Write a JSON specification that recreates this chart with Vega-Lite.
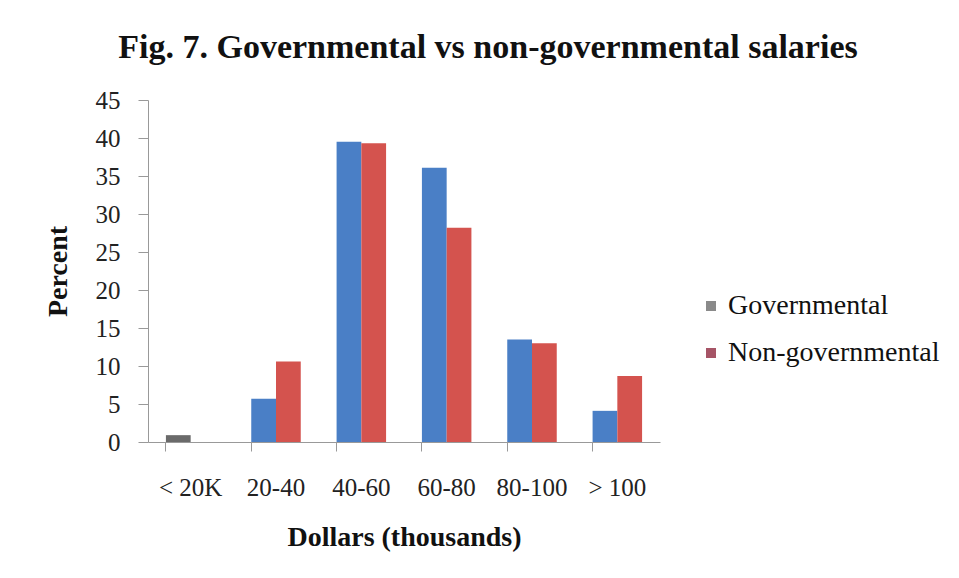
{
  "$schema": "https://vega.github.io/schema/vega-lite/v6.json",
  "width": 512,
  "height": 342,
  "autosize": {"type": "none"},
  "padding": {"left": 148, "top": 100, "right": 299, "bottom": 136},
  "background": "#ffffff",
  "title": {
    "text": "Fig. 7.  Governmental vs non-governmental salaries",
    "font": "Liberation Serif",
    "fontWeight": "bold",
    "fontSize": 34,
    "color": "#111111",
    "anchor": "middle",
    "frame": "group",
    "dx": 84,
    "offset": 23
  },
  "data": {
    "values": [
      {"bracket": "< 20K", "group": "Governmental", "percent": 0.9},
      {"bracket": "< 20K", "group": "Non-governmental", "percent": 0},
      {"bracket": "20-40", "group": "Governmental", "percent": 5.7},
      {"bracket": "20-40", "group": "Non-governmental", "percent": 10.6},
      {"bracket": "40-60", "group": "Governmental", "percent": 39.5},
      {"bracket": "40-60", "group": "Non-governmental", "percent": 39.3},
      {"bracket": "60-80", "group": "Governmental", "percent": 36.1},
      {"bracket": "60-80", "group": "Non-governmental", "percent": 28.2},
      {"bracket": "80-100", "group": "Governmental", "percent": 13.5},
      {"bracket": "80-100", "group": "Non-governmental", "percent": 13.0},
      {"bracket": "> 100", "group": "Governmental", "percent": 4.1},
      {"bracket": "> 100", "group": "Non-governmental", "percent": 8.7}
    ]
  },
  "encoding": {
    "x": {
      "field": "bracket",
      "type": "nominal",
      "sort": ["< 20K", "20-40", "40-60", "60-80", "80-100", "> 100"],
      "scale": {"paddingInner": 0.42, "paddingOuter": 0.21},
      "axis": {
        "title": "Dollars (thousands)",
        "titleFont": "Liberation Serif",
        "titleFontWeight": "bold",
        "titleFontSize": 28,
        "titleColor": "#111111",
        "titlePadding": 23,
        "labelAngle": 0,
        "labelFont": "Liberation Serif",
        "labelFontSize": 25,
        "labelColor": "#222222",
        "labelPadding": 24,
        "bandPosition": 0,
        "tickSize": 9,
        "tickColor": "#999999",
        "domainColor": "#999999",
        "grid": false
      }
    },
    "xOffset": {"field": "group", "type": "nominal", "scale": {"paddingInner": 0}}
  },
  "layer": [
    {
      "mark": {"type": "bar"},
      "encoding": {
        "y": {
          "datum": 0,
          "type": "quantitative",
          "scale": {"domain": [0, 45], "nice": false},
          "axis": {
            "title": "Percent",
            "titleFont": "Liberation Serif",
            "titleFontWeight": "bold",
            "titleFontSize": 28,
            "titleColor": "#111111",
            "titlePadding": 23,
            "values": [0, 5, 10, 15, 20, 25, 30, 35, 40, 45],
            "labelFont": "Liberation Serif",
            "labelFontSize": 25,
            "labelColor": "#222222",
            "labelPadding": 18,
            "tickSize": 10,
            "tickColor": "#999999",
            "domainColor": "#999999",
            "gridColor": "#b5b5b5",
            "gridWidth": 1.3
          }
        },
        "color": {
          "field": "group",
          "type": "nominal",
          "scale": {"domain": ["Governmental", "Non-governmental"], "range": ["#8a8a8a", "#a65466"]},
          "legend": {
            "title": null,
            "orient": "none",
            "legendX": 549,
            "legendY": 192,
            "symbolType": "square",
            "symbolSize": 100,
            "symbolStrokeWidth": 0,
            "labelFont": "Liberation Serif",
            "labelFontSize": 28,
            "labelColor": "#111111",
            "labelLimit": 400,
            "labelOffset": 3,
            "rowPadding": 19
          }
        }
      }
    },
    {
      "mark": {"type": "bar"},
      "encoding": {
        "y": {
          "field": "percent",
          "type": "quantitative",
          "scale": {"domain": [0, 45], "nice": false},
          "axis": {
            "title": "Percent",
            "titleFont": "Liberation Serif",
            "titleFontWeight": "bold",
            "titleFontSize": 28,
            "titleColor": "#111111",
            "titlePadding": 23,
            "values": [0, 5, 10, 15, 20, 25, 30, 35, 40, 45],
            "labelFont": "Liberation Serif",
            "labelFontSize": 25,
            "labelColor": "#222222",
            "labelPadding": 18,
            "tickSize": 10,
            "tickColor": "#999999",
            "domainColor": "#999999",
            "gridColor": "#b5b5b5",
            "gridWidth": 1.3
          }
        },
        "fill": {
          "condition": {"test": "datum.bracket === '< 20K'", "value": "#6a6a6a"},
          "field": "group",
          "type": "nominal",
          "scale": {"domain": ["Governmental", "Non-governmental"], "range": ["#4a7fc6", "#d4534e"]},
          "legend": null
        }
      }
    }
  ],
  "config": {
    "view": {"stroke": null}
  }
}
